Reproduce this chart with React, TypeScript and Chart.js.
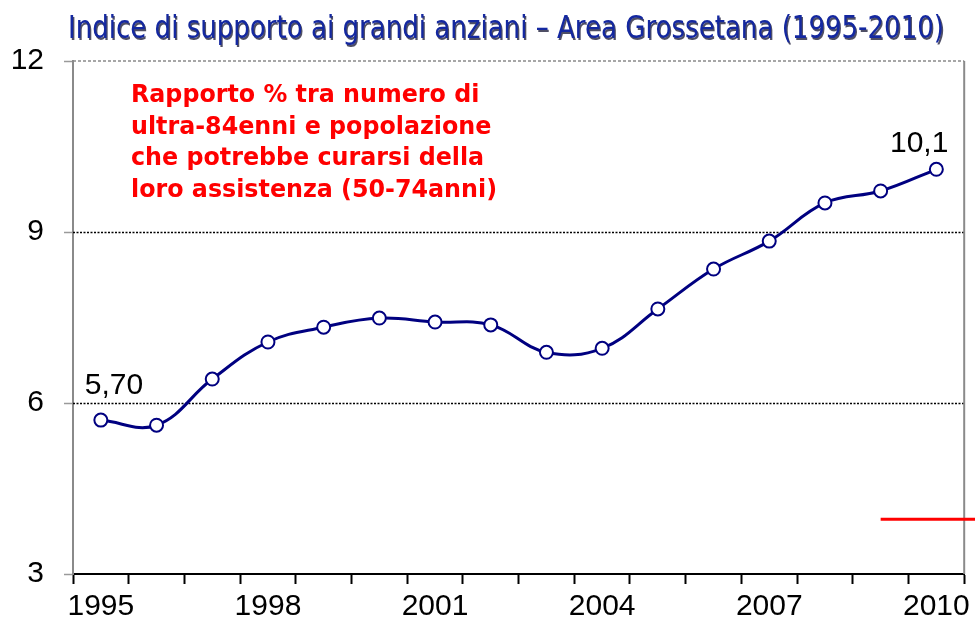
import React, { useEffect, useRef } from "react";
import { Chart, registerables } from "chart.js";

Chart.register(...registerables);

const YEARS = ["1995","1996","1997","1998","1999","2000","2001","2002","2003","2004","2005","2006","2007","2008","2009","2010"];
const INDEX_VALUES = [5.70, 5.61, 6.42, 7.07, 7.33, 7.49, 7.42, 7.37, 6.89, 6.96, 7.65, 8.35, 8.84, 9.51, 9.72, 10.1];
const SHOWN_YEARS = ["1995", "1998", "2001", "2004", "2007", "2010"];
const Y_MIN = 3;
const Y_MAX = 12;
const Y_STEP = 3;
const GRID_VALUES = [6, 9];
const LABELLED_INDEXES = [0, 15];
const LABEL_TEXTS = ["5,70", "10,1"];
const TITLE = "Indice di supporto ai grandi anziani – Area Grossetana (1995-2010)";
const NOTE_LINES = [
  "Rapporto % tra numero di",
  "ultra-84enni e popolazione",
  "che potrebbe curarsi della",
  "loro assistenza (50-74anni)",
];
const RED_MARK_VALUE = 3.96;
const RED_MARK_START_INDEX = 14;

const FONT = "'Liberation Sans', Arial, sans-serif";

const decorPlugin = {
  id: "decor",
  beforeDatasetsDraw(chart: any) {
    const { ctx, chartArea, scales } = chart;
    const y = scales.y;
    ctx.save();
    ctx.strokeStyle = "#000";
    ctx.lineWidth = 1.5;
    ctx.setLineDash([2, 1.5]);
    GRID_VALUES.forEach((v) => {
      const py = Math.round(y.getPixelForValue(v)) + 0.5;
      ctx.beginPath();
      ctx.moveTo(chartArea.left, py);
      ctx.lineTo(chartArea.right, py);
      ctx.stroke();
    });
    ctx.strokeStyle = "#8a8a8a";
    ctx.lineWidth = 1.5;
    ctx.setLineDash([3, 2]);
    const ty = y.getPixelForValue(Y_MAX);
    ctx.beginPath();
    ctx.moveTo(chartArea.left, ty);
    ctx.lineTo(chartArea.right, ty);
    ctx.stroke();
    ctx.setLineDash([]);
    ctx.lineWidth = 2;
    ctx.beginPath();
    ctx.moveTo(chartArea.right, chartArea.top);
    ctx.lineTo(chartArea.right, chartArea.bottom);
    ctx.stroke();
    ctx.restore();
  },
  afterDraw(chart: any) {
    const { ctx, scales } = chart;
    const x = scales.x;
    const y = scales.y;
    const meta = chart.getDatasetMeta(0);
    ctx.save();
    // title
    ctx.font = `32px 'DejaVu Sans', Verdana, sans-serif`;
    ctx.textBaseline = "alphabetic";
    const tw = ctx.measureText(TITLE).width;
    const targetW = 876;
    const sx = targetW / tw;
    ctx.save();
    ctx.translate(506 - targetW / 2, 38);
    ctx.scale(sx, 1);
    ctx.fillStyle = "rgba(20,20,50,0.75)";
    ctx.fillText(TITLE, 1.6, 1.6);
    ctx.fillStyle = "#1428a0";
    ctx.fillText(TITLE, 0, 0);
    ctx.restore();

    // red note
    ctx.font = `bold 24px 'DejaVu Sans', Verdana, sans-serif`;
    const lastW = ctx.measureText(NOTE_LINES[3]).width;
    const nsx = 366 / lastW;
    ctx.fillStyle = "#ff0000";
    NOTE_LINES.forEach((l, i) => {
      ctx.save();
      ctx.translate(131, 102 + i * 31.5);
      ctx.scale(nsx, 1);
      ctx.fillText(l, 0, 0);
      ctx.restore();
    });

    // value labels
    ctx.font = `30px ${FONT}`;
    ctx.fillStyle = "#000";
    LABELLED_INDEXES.forEach((idx, i) => {
      const p = meta.data[idx];
      if (i === 0) {
        ctx.textAlign = "left";
        ctx.fillText(LABEL_TEXTS[i], p.x - 16, p.y - 26);
      } else {
        ctx.textAlign = "right";
        ctx.fillText(LABEL_TEXTS[i], p.x + 12, p.y - 17);
      }
    });

    // red mark
    const rx = x.getPixelForValue(RED_MARK_START_INDEX);
    const ry = y.getPixelForValue(RED_MARK_VALUE);
    ctx.strokeStyle = "#ff0000";
    ctx.lineWidth = 3;
    ctx.beginPath();
    ctx.moveTo(rx, ry);
    ctx.lineTo(chart.width, ry);
    ctx.stroke();
    ctx.restore();
  },
};

export default function App() {
  const ref = useRef<HTMLCanvasElement>(null);
  useEffect(() => {
    document.body.style.margin = "0";
    const chart = new Chart(ref.current!, {
      type: "line",
      data: {
        labels: YEARS,
        datasets: [
          {
            data: INDEX_VALUES,
            borderColor: "#000080",
            borderWidth: 3,
            tension: 0.4,
            pointRadius: 6.5,
            pointBorderWidth: 2,
            pointBackgroundColor: "#ffffff",
            pointBorderColor: "#000080",
            clip: false,
          },
        ],
      },
      options: {
        responsive: false,
        animation: false,
        layout: { padding: { top: 61, right: 9, left: 0, bottom: 0 } },
        plugins: {
          legend: { display: false },
          title: { display: false },
          tooltip: { enabled: false },
        },
        scales: {
          x: {
            type: "category",
            offset: true,
            grid: {
              offset: true,
              drawOnChartArea: false,
              drawTicks: true,
              tickLength: 10,
              tickColor: "#000",
              tickWidth: 2,
            },
            border: { display: true, color: "#000", width: 2 },
            ticks: {
              autoSkip: false,
              maxRotation: 0,
              padding: 5,
              color: "#000",
              font: { family: FONT, size: 30 },
              callback: (_v: any, i: number) => (SHOWN_YEARS.includes(YEARS[i]) ? YEARS[i] : ""),
            },
            afterFit: (s: any) => {
              s.height = 52;
            },
          },
          y: {
            min: Y_MIN,
            max: Y_MAX,
            grid: {
              drawOnChartArea: false,
              drawTicks: true,
              tickLength: 9,
              tickColor: "#9a9a9a",
              tickWidth: 1.5,
            },
            border: { display: true, color: "#8a8a8a", width: 2 },
            ticks: {
              stepSize: Y_STEP,
              padding: 20,
              color: "#000",
              font: { family: FONT, size: 30 },
            },
            afterFit: (s: any) => {
              s.width = 73;
            },
          },
        },
      },
      plugins: [decorPlugin],
    });
    return () => chart.destroy();
  }, []);
  return (
    <div style={{ width: 975, height: 626 }}>
      <canvas ref={ref} width={975} height={626} style={{ display: "block" }} />
    </div>
  );
}
